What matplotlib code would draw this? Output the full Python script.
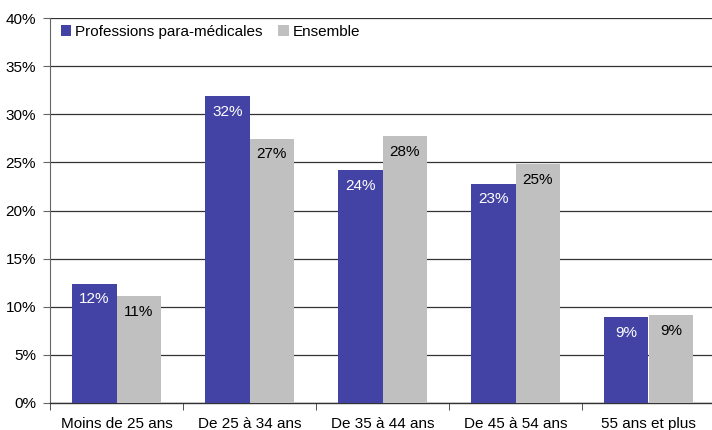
import matplotlib
matplotlib.use("Agg")
import matplotlib.pyplot as plt
import numpy as np

categories = ["Moins de 25 ans", "De 25 à 34 ans", "De 35 à 44 ans", "De 45 à 54 ans", "55 ans et plus"]
para = [12.4, 31.9, 24.2, 22.8, 8.9]
ensemble = [11.1, 27.45, 27.7, 24.8, 9.1]
series_names = ["Professions para-médicales", "Ensemble"]
yticks = [0, 5, 10, 15, 20, 25, 30, 35, 40]

plt.rcParams['font.family'] = ['Liberation Sans', 'DejaVu Sans']
fig = plt.figure(figsize=(7.12, 4.30), dpi=100)
ax = fig.add_axes([50/712, 27/430, 665/712, 385/430])

x = np.arange(len(categories))
w = 0.335
purple = "#4343A6"
grey = "#C0C0C0"
ax.bar(x - w/2, para, w, color=purple, label=series_names[0], zorder=3)
ax.bar(x + w/2, ensemble, w, color=grey, label=series_names[1], zorder=3)

fs = 11
for xi, v in zip(x - w/2, para):
    ax.text(xi, v - 0.9, f"{round(v):.0f}%", ha="center", va="top", color="white", fontsize=fs, zorder=4)
for xi, v in zip(x + w/2, ensemble):
    ax.text(xi, v - 0.9, f"{round(v):.0f}%", ha="center", va="top", color="black", fontsize=fs, zorder=4)

ax.set_xlim(-0.5, 4.5)
ax.set_ylim(0, 40)
ax.set_yticks(yticks)
ax.set_yticklabels([f"{t}%" for t in yticks], fontsize=fs)
ax.yaxis.grid(True, color="#333333", linewidth=0.9, zorder=0)
ax.set_axisbelow(True)

ax.set_xticks(x)
ax.set_xticklabels(categories, fontsize=fs)
ax.tick_params(axis="x", length=0, pad=10)
ax.set_xticks(np.arange(-0.5, 5.0, 1.0), minor=True)
ax.tick_params(axis="x", which="minor", length=5, direction="out", color="#333333")
ax.tick_params(axis="y", length=5, direction="out", color="#666666", pad=5)

for s in ["top", "right"]:
    ax.spines[s].set_visible(False)
ax.spines["left"].set_color("#666666")
ax.spines["bottom"].set_color("#333333")
ax.spines["bottom"].set_linewidth(1.0)

ax.legend(loc="upper left", ncol=2, frameon=False, fontsize=fs,
          handlelength=0.7, handleheight=0.7, handletextpad=0.25,
          columnspacing=1.0, bbox_to_anchor=(0.0, 1.01), borderaxespad=0.3)

fig.savefig("out.png", dpi=100)
